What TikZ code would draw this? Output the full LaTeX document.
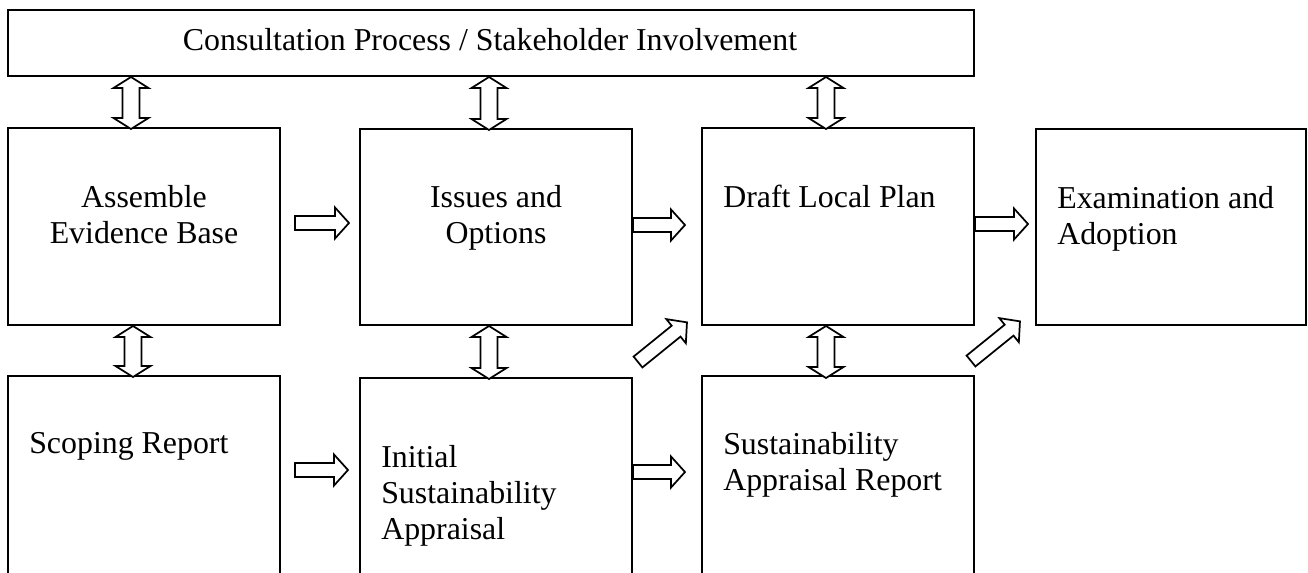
\documentclass[tikz,border=0pt]{standalone}
\usepackage{fontspec}
\setmainfont{Liberation Serif}
\usetikzlibrary{fit}
\tikzset{
  box/.style={draw, line width=1.5pt, inner sep=0pt},
  lbl/.style={font=\fontsize{23.9}{27}\selectfont, inner sep=0pt},
  blk/.style={draw, line width=1.3pt, fill=white, line join=miter},
  pics/barrow/.style={code={\path[blk] (0,-7) -- ({#1-14},-7) -- ({#1-14},-15.5) -- (#1,0) -- ({#1-14},15.5) -- ({#1-14},7) -- (0,7) -- cycle;}},
  pics/dbarrow/.style={code={\path[blk] (0,0) -- (11,-17.5) -- (11,-8.5) -- ({#1-11},-8.5) -- ({#1-11},-17.5) -- (#1,0) -- ({#1-11},17.5) -- ({#1-11},8.5) -- (11,8.5) -- (11,17.5) -- cycle;}}
}
\begin{document}
\begin{tikzpicture}[x=0.75pt,y=-0.75pt]
\useasboundingbox (0,0) rectangle (1308,572);
\clip (0,0) rectangle (1308,572);
\fill[white] (0,0) rectangle (1308,572);
% boxes
\node[box, fit={(8,10) (974,76)}] (top) {};
\node[box, fit={(8,128) (280,325)}] (assemble) {};
\node[box, fit={(360,129) (632,325)}] (issues) {};
\node[box, fit={(702,128) (974,325)}] (draft) {};
\node[box, fit={(1036,129) (1306,325)}] (exam) {};
\node[box, fit={(8,376) (280,600)}] (scoping) {};
\node[box, fit={(360,378) (632,600)}] (initial) {};
\node[box, fit={(702,376) (974,600)}] (sar) {};
% texts (base anchor = baseline of the last line)
\node[lbl, anchor=base] (ttop) at (490,50) {Consultation Process / Stakeholder Involvement};
\node[lbl, anchor=base, align=center] (tassemble) at (144,243) {Assemble\\Evidence Base};
\node[lbl, anchor=base, align=center] (tissues) at (496,243) {Issues and\\Options};
\node[lbl, anchor=base west] (tdraft) at (723,207) {Draft Local Plan};
\node[lbl, anchor=base west, align=left] (texam) at (1057,244) {Examination and\\Adoption};
\node[lbl, anchor=base west] (tscoping) at (29,453) {Scoping Report};
\node[lbl, anchor=base west, align=left] (tinitial) at (381,539) {Initial\\Sustainability\\Appraisal};
\node[lbl, anchor=base west, align=left] (tsar) at (723,490) {Sustainability\\Appraisal Report};
% vertical double arrows
\pic[rotate=-90] at (131,0 |- top.south) {dbarrow=52};
\pic[rotate=-90] at (489,0 |- top.south) {dbarrow=53};
\pic[rotate=-90] at (826,0 |- top.south) {dbarrow=52};
\pic[rotate=-90] at (133,0 |- assemble.south) {dbarrow=51};
\pic[rotate=-90] at (489,0 |- issues.south) {dbarrow=53};
\pic[rotate=-90] at (826,0 |- draft.south) {dbarrow=52};
% horizontal block arrows
\pic at (295,223) {barrow=54};
\pic at (issues.east |- 0,225) {barrow=52};
\pic at (draft.east |- 0,224) {barrow=53};
\pic at (295,470) {barrow=53};
\pic at (initial.east |- 0,472) {barrow=52};
% diagonal block arrows
\pic[rotate=39] at (638,362) {barrow=63};
\pic[rotate=39] at (971,361) {barrow=63};
\end{tikzpicture}
\end{document}
